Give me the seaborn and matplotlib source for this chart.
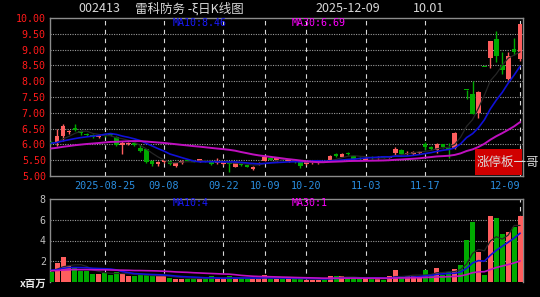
import numpy as np
import pandas as pd
import matplotlib
matplotlib.use("Agg")
import matplotlib.pyplot as plt
import seaborn as sns
from matplotlib.patches import Rectangle

# ---------------- data ----------------
stock_code = "002413"
stock_name = "雷科防务 -ξ日K线图"
last_date_text = "2025-12-09"
last_price_text = "10.01"
tag_text = "涨停板一哥"
price_ma_labels = ["MA10:8.46", "MA30:6.69"]
vol_ma_labels = ["MA10:4", "MA30:1"]
vol_unit = "x百万"

opens = [6.08, 6.05, 6.27, 6.39, 6.53, 6.41, 6.33, 6.31, 6.23, 6.33,
         6.34, 6.22, 5.98, 6.02, 6.05, 5.90, 5.84, 5.48, 5.38, 5.43,
         5.47, 5.33, 5.40, 5.51, 5.48, 5.46, 5.48, 5.43, 5.42, 5.38,
         5.41, 5.30, 5.38, 5.34, 5.22, 5.38, 5.49, 5.57, 5.50, 5.56,
         5.48, 5.50, 5.47, 5.37, 5.40, 5.40, 5.47, 5.50, 5.70, 5.61,
         5.74, 5.62, 5.57, 5.52, 5.60, 5.56, 5.62, 5.58, 5.73, 5.83,
         5.70, 5.71, 5.73, 6.00, 5.93, 5.83, 6.00, 5.90, 5.89, 7.01,
         7.71, 7.60, 7.00, 8.44, 8.72, 9.33, 8.50, 8.08, 9.01, 8.69]
highs = [6.12, 6.50, 6.65, 6.46, 6.63, 6.44, 6.35, 6.33, 6.30, 6.36,
         6.37, 6.28, 6.10, 6.08, 6.08, 5.98, 5.86, 5.50, 5.46, 5.52,
         5.49, 5.44, 5.50, 5.53, 5.50, 5.55, 5.50, 5.45, 5.56, 5.45,
         5.43, 5.43, 5.40, 5.36, 5.31, 5.44, 5.62, 5.58, 5.58, 5.58,
         5.52, 5.52, 5.49, 5.45, 5.46, 5.50, 5.49, 5.67, 5.72, 5.73,
         5.77, 5.64, 5.59, 5.60, 5.62, 5.62, 5.64, 5.64, 5.92, 5.86,
         5.78, 5.79, 5.80, 6.07, 5.95, 6.05, 6.02, 6.05, 6.38, 7.01,
         7.71, 8.00, 7.68, 8.44, 9.28, 9.60, 8.93, 8.93, 9.37, 9.80]
lows = [6.00, 5.96, 6.11, 6.33, 6.42, 6.30, 6.27, 6.20, 6.20, 6.25,
        6.27, 5.95, 5.71, 5.98, 5.96, 5.76, 5.42, 5.33, 5.33, 5.40,
        5.35, 5.30, 5.38, 5.46, 5.43, 5.44, 5.44, 5.36, 5.38, 5.36,
        5.14, 5.28, 5.33, 5.28, 5.19, 5.36, 5.47, 5.50, 5.48, 5.50,
        5.44, 5.42, 5.26, 5.34, 5.37, 5.38, 5.43, 5.48, 5.61, 5.59,
        5.66, 5.52, 5.50, 5.50, 5.55, 5.54, 5.56, 5.56, 5.67, 5.66,
        5.66, 5.68, 5.70, 5.82, 5.82, 5.72, 5.88, 5.57, 5.86, 7.01,
        7.45, 6.95, 6.85, 8.44, 8.41, 8.60, 8.24, 8.03, 8.84, 8.65]
closes = [6.03, 6.27, 6.59, 6.41, 6.45, 6.35, 6.30, 6.22, 6.27, 6.28,
          6.30, 5.98, 6.06, 6.03, 5.98, 5.80, 5.43, 5.38, 5.43, 5.50,
          5.37, 5.42, 5.48, 5.49, 5.45, 5.53, 5.46, 5.38, 5.44, 5.43,
          5.38, 5.41, 5.35, 5.30, 5.29, 5.42, 5.60, 5.52, 5.56, 5.53,
          5.50, 5.45, 5.32, 5.43, 5.44, 5.47, 5.45, 5.63, 5.64, 5.71,
          5.69, 5.55, 5.53, 5.58, 5.57, 5.60, 5.58, 5.62, 5.86, 5.70,
          5.74, 5.75, 5.77, 5.93, 5.84, 6.02, 5.91, 5.86, 6.37, 7.01,
          7.71, 6.97, 7.67, 8.44, 9.28, 8.79, 8.34, 8.80, 8.91, 9.80]
volumes = [0.96, 1.83, 2.43, 1.57, 1.47, 1.03, 1.03, 0.80, 0.80, 0.87,
           0.70, 0.96, 0.80, 0.61, 0.55, 0.70, 0.70, 0.55, 0.55, 0.55,
           0.38, 0.32, 0.32, 0.32, 0.32, 0.38, 0.38, 0.55, 0.32, 0.32,
           0.55, 0.32, 0.38, 0.32, 0.32, 0.32, 0.70, 0.32, 0.32, 0.32,
           0.32, 0.32, 0.32, 0.22, 0.22, 0.22, 0.32, 0.61, 0.55, 0.61,
           0.32, 0.32, 0.32, 0.32, 0.32, 0.32, 0.22, 0.55, 1.18, 0.38,
           0.55, 0.61, 0.61, 1.18, 0.70, 1.38, 0.70, 0.96, 1.30, 1.67,
           4.07, 5.77, 2.88, 0.64, 6.40, 6.15, 4.60, 4.80, 5.30, 6.40]
# closes / volumes before the visible window (only used for the moving averages)
pre_closes = [5.62, 5.65, 5.70, 5.68, 5.74, 5.72, 5.78, 5.80, 5.76, 5.79,
              5.83, 5.81, 5.78, 5.80, 5.85, 5.82, 5.84, 5.90, 5.92, 5.98,
              6.02, 6.10, 6.05, 6.08, 6.03, 6.06, 6.00, 6.04, 5.96]
pre_volumes = [0.9, 1.1, 0.8, 1.0, 1.2, 0.9, 1.3, 1.0, 0.8, 1.1,
               1.4, 0.9, 1.0, 1.2, 0.8, 1.1, 0.9, 1.0, 1.3, 1.2,
               1.5, 1.0, 0.9, 1.4, 1.1, 1.2, 1.3, 1.0, 1.1]
label_dates = ["2025-08-25", "2025-09-08", "2025-09-22", "2025-10-09",
               "2025-10-20", "2025-11-03", "2025-11-17", "2025-12-09"]

# trading calendar (weekdays, National Day holiday removed)
days = pd.bdate_range("2025-08-12", "2025-12-09")
days = days[(days < "2025-10-01") | (days > "2025-10-08")]
dates = [d.strftime("%Y-%m-%d") for d in days]

# ---------------- derived ----------------
n = len(closes)
idx = np.arange(n)
o = np.array(opens); h = np.array(highs); l = np.array(lows); c = np.array(closes)
v = np.array(volumes)
npre = len(pre_closes)
allc = pd.Series(pre_closes + closes)
allv = pd.Series(pre_volumes + volumes)
ma5 = allc.rolling(5).mean().values[npre:]
ma10 = allc.rolling(10).mean().values[npre:]
ma30 = allc.rolling(30).mean().values[npre:]
vma5 = allv.rolling(5).mean().values[npre:]
vma10 = allv.rolling(10).mean().values[npre:]
vma30 = allv.rolling(30).mean().values[npre:]
up = c > o

UP = "#ff5e5e"
DN = "#00aa00"
BLUE = "#1010d8"
MAG = "#c010c0"
MA5C = "#262626"
GRID = "#9a9a9a"
SPINE = "#8c8c8c"
VLINE = "#d8d8d8"

# ---------------- figure ----------------
sns.set_style("dark")
plt.rcParams["font.family"] = ["DejaVu Sans"]
W, H = 540, 297
fig = plt.figure(figsize=(W / 100, H / 100), dpi=100, facecolor="black")

def fx(px):
    return px / W

def fy(py):
    return 1 - py / H

L, R = 50, 523
ax = fig.add_axes([fx(L), fy(176), (R - L) / W, (176 - 18) / H])
axv = fig.add_axes([fx(L), fy(282), (R - L) / W, (282 - 199) / H])
xlim = (-0.2, n - 0.5)

mono = "DejaVu Sans Mono"
cjk = ["Noto Sans CJK SC", "DejaVu Sans"]

for a in (ax, axv):
    a.set_facecolor("black")
    a.set_xlim(*xlim)
    a.set_xticks([])
    for s in a.spines.values():
        s.set_color(SPINE)
        s.set_linewidth(1.0)
    a.tick_params(axis="y", length=0, pad=3, colors="red")
    a.grid(False)
axv.spines["bottom"].set_visible(False)

# ----- price panel -----
ax.set_ylim(5.0, 10.0)
yt = np.arange(5.0, 10.01, 0.5)
ax.set_yticks(yt)
ax.set_yticklabels([f"{t:.2f}" for t in yt], fontfamily=mono, fontsize=7.2, color="#ff1a1a")
for t in yt[1:-1]:
    ax.axhline(t, color=GRID, lw=0.8, ls=(0, (1, 1.2)), zorder=1)

tick_idx = [dates.index(d) for d in label_dates]
for i in tick_idx:
    ax.axvline(i, color=VLINE, lw=0.8, ls=(0, (4, 4)), zorder=1)
    axv.axvline(i, color=VLINE, lw=0.8, ls=(0, (4, 4)), zorder=1)

body_bottom = np.minimum(o, c)
body_h = np.maximum(np.abs(c - o), 0.03)
colors = np.where(up, UP, DN)
ax.vlines(idx, l, h, colors=colors, lw=1.0, zorder=3)
ax.bar(idx, body_h, bottom=body_bottom, width=0.8, color=colors, linewidth=0, zorder=4)

sns.lineplot(x=idx, y=ma5, ax=ax, color=MA5C, lw=0.9, zorder=5, legend=False)
sns.lineplot(x=idx, y=ma10, ax=ax, color=BLUE, lw=1.2, zorder=5, legend=False)
sns.lineplot(x=idx, y=ma30, ax=ax, color=MAG, lw=1.4, zorder=5, legend=False)
ax.set_xlabel(""); ax.set_ylabel("")
ax.set_xlim(*xlim)

fig.text(fx(173), fy(23), price_ma_labels[0], color="#1a1aff", fontfamily=mono,
         fontsize=7.2, va="center", ha="left")
fig.text(fx(292), fy(23), price_ma_labels[1], color="#ff00ff", fontfamily=mono,
         fontsize=7.2, va="center", ha="left")

# tag box
fig.patches.append(Rectangle((fx(475), fy(175)), (522 - 475) / W, (175 - 149) / H,
                             transform=fig.transFigure, facecolor="#d00000",
                             edgecolor="none", zorder=6))
fig.text(fx(477), fy(162), tag_text, color="#dcdcdc", fontfamily=cjk,
         fontsize=9, va="center", ha="left", zorder=7)

# date labels
for k, i in enumerate(tick_idx):
    lab = label_dates[k] if k == 0 else label_dates[k][5:]
    xd = ax.transData.transform((i, 0))[0]
    xf = fig.transFigure.inverted().transform((xd, 0))[0]
    ha = "right" if k == len(tick_idx) - 1 else "center"
    fig.text(xf, fy(186), lab, color="#2a8ee0", fontfamily=mono, fontsize=7.3,
             va="center", ha=ha)

# ----- volume panel -----
axv.set_ylim(0, 8)
vt = [2, 4, 6, 8]
axv.set_yticks(vt)
axv.set_yticklabels([str(t) for t in vt], fontfamily=mono, fontsize=7.2, color="#c0c0c0")
for t in [2, 4, 6]:
    axv.axhline(t, color=GRID, lw=0.8, ls=(0, (1, 1.2)), zorder=1)
axv.bar(idx, v, width=0.84, color=colors, linewidth=0, zorder=3)
sns.lineplot(x=idx, y=vma5, ax=axv, color=MA5C, lw=0.9, zorder=5, legend=False)
sns.lineplot(x=idx, y=vma10, ax=axv, color=BLUE, lw=1.2, zorder=5, legend=False)
sns.lineplot(x=idx, y=vma30, ax=axv, color=MAG, lw=1.2, zorder=5, legend=False)
axv.set_xlabel(""); axv.set_ylabel("")
axv.set_xlim(*xlim)

fig.text(fx(173), fy(203), vol_ma_labels[0], color="#1a1aff", fontfamily=mono,
         fontsize=7.2, va="center", ha="left")
fig.text(fx(292), fy(203), vol_ma_labels[1], color="#ff00ff", fontfamily=mono,
         fontsize=7.2, va="center", ha="left")
fig.text(fx(46), fy(284), vol_unit, color="#e8e8e8", fontfamily=cjk, fontsize=7.5,
         va="center", ha="right", fontweight="bold")

# ----- title row -----
fig.text(fx(78), fy(9), stock_code, color="#d8d8d8", fontfamily=cjk, fontsize=9, va="center", ha="left")
fig.text(fx(135), fy(9), stock_name, color="#d8d8d8", fontfamily=cjk, fontsize=9, va="center", ha="left")
fig.text(fx(315), fy(9), last_date_text, color="#d8d8d8", fontfamily=cjk, fontsize=9, va="center", ha="left")
fig.text(fx(413), fy(9), last_price_text, color="#d8d8d8", fontfamily=cjk, fontsize=9, va="center", ha="left")

fig.savefig("out.png", dpi=100, facecolor="black")
